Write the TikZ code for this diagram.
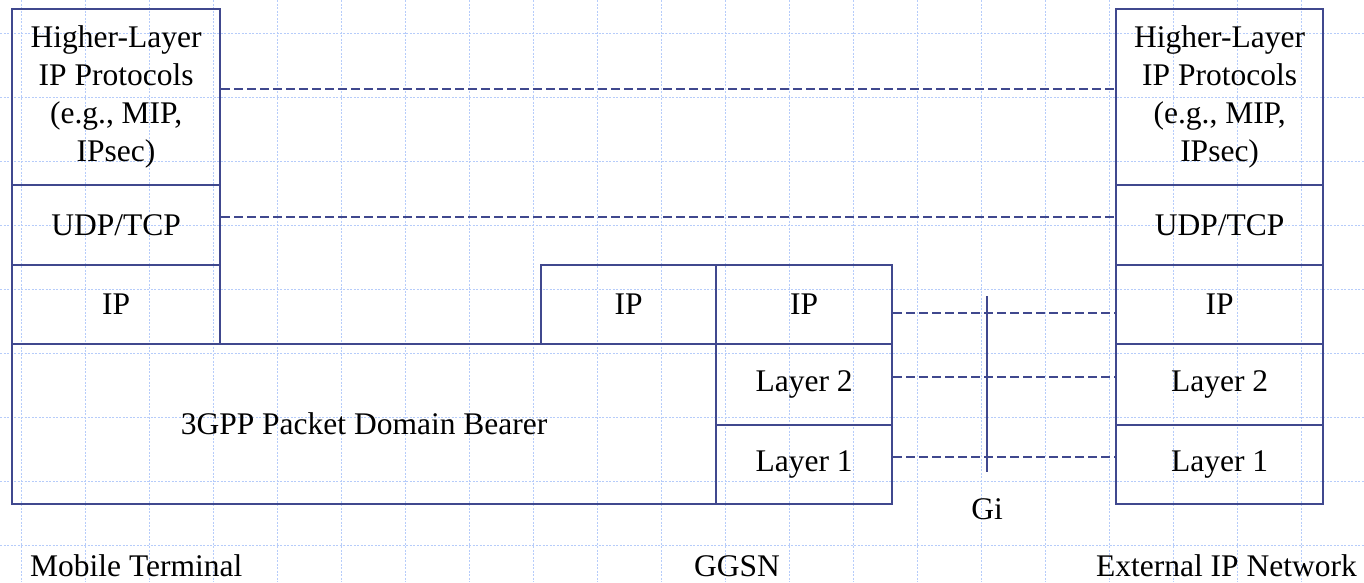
\documentclass[tikz,border=0pt]{standalone}
\usepackage{fontspec}
\setmainfont{Liberation Serif}
\definecolor{boxc}{RGB}{64,72,142}
\definecolor{gridc}{RGB}{182,204,250}
\tikzset{
  lay/.style={draw=boxc, line width=2.2pt, inner sep=0pt, anchor=north west, align=center,
    font=\fontsize{31.5}{38}\selectfont},
  lbl/.style={inner sep=0pt, font=\fontsize{31.5}{38}\selectfont},
  peer/.style={draw=boxc, line width=2pt, dash pattern=on 9pt off 4pt},
  gridline/.style={draw=gridc, line width=1pt, dash pattern=on 2pt off 1.5pt},
}
\begin{document}
\begin{tikzpicture}[x=1pt,y=-1pt]
\useasboundingbox (0,0) rectangle (1364,582);
% background grid
\foreach \k in {0,...,21} { \draw[gridline] (21+64*\k,0) -- (21+64*\k,582); }
\foreach \k in {0,...,8} { \draw[gridline] (0,33+64*\k) -- (1364,33+64*\k); }
% mobile terminal stack
\node[lay, minimum width=208pt, minimum height=176pt] (mthl) at (11,8) {Higher-Layer\\IP Protocols\\(e.g., MIP,\\IPsec)};
\node[lay, minimum width=208pt, minimum height=80pt] (mtudp) at (11,184) {UDP/TCP};
\node[lay, minimum width=208pt, minimum height=79pt] (mtip) at (11,264) {IP};
\node[lay, minimum width=704pt, minimum height=160pt] (bearer) at (11,343) {3GPP Packet Domain Bearer};
% GGSN stack
\node[lay, minimum width=175pt, minimum height=79pt] (midip) at (540,264) {IP};
\node[lay, minimum width=176pt, minimum height=79pt] (ggip) at (715,264) {IP};
\node[lay, minimum width=176pt, minimum height=81pt] (ggl2) at (715,343) {Layer 2};
\node[lay, minimum width=176pt, minimum height=79pt] (ggl1) at (715,424) {Layer 1};
% external network stack
\node[lay, minimum width=207pt, minimum height=176pt] (exhl) at (1115,8) {Higher-Layer\\IP Protocols\\(e.g., MIP,\\IPsec)};
\node[lay, minimum width=207pt, minimum height=80pt] (exudp) at (1115,184) {UDP/TCP};
\node[lay, minimum width=207pt, minimum height=79pt] (exip) at (1115,264) {IP};
\node[lay, minimum width=207pt, minimum height=81pt] (exl2) at (1115,343) {Layer 2};
\node[lay, minimum width=207pt, minimum height=79pt] (exl1) at (1115,424) {Layer 1};
% peer connections
\draw[peer] ([yshift=8pt]mthl.east) -- ([yshift=8pt]exhl.west);
\draw[peer] ([yshift=8pt]mtudp.east) -- ([yshift=8pt]exudp.west);
\draw[peer] ([yshift=-8.5pt]ggip.east) -- ([yshift=-8.5pt]exip.west);
\draw[peer] ([yshift=7.5pt]ggl2.east) -- ([yshift=7.5pt]exl2.west);
\draw[peer] ([yshift=7.5pt]ggl1.east) -- ([yshift=7.5pt]exl1.west);
% Gi reference point
\coordinate (gitop) at (987,296);
\coordinate (gibot) at (987,472);
\draw[draw=boxc, line width=2pt] (gitop) -- (gibot);
\node[lbl, anchor=base] (gi) at (987,519) {Gi};
% bottom labels
\node[lbl, anchor=base west] (mt) at (30,576) {Mobile Terminal};
\node[lbl, anchor=base] (ggsn) at (737,576) {GGSN};
\node[lbl, anchor=base east] (ext) at (1357,576) {External IP Network};
\end{tikzpicture}
\end{document}
